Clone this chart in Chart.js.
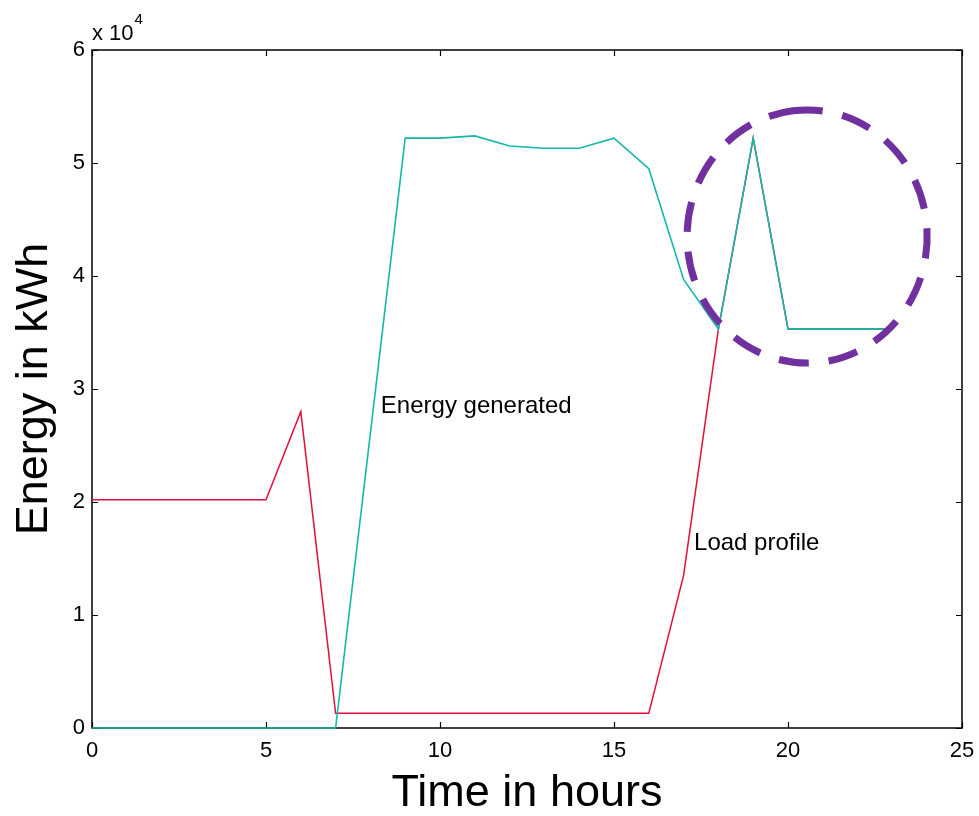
<!DOCTYPE html>
<html>
<head>
<meta charset="utf-8">
<script src="https://cdn.jsdelivr.net/npm/chart.js@4.4.1/dist/chart.umd.min.js"></script>
<style>
  html, body { margin: 0; padding: 0; background: #fff; }
  #wrap { width: 979px; height: 816px; }
</style>
</head>
<body>
<div id="wrap"><canvas id="energy"></canvas></div>
<script>
const hours = [0, 1, 2, 3, 4, 5, 6, 7, 8, 9, 10, 11, 12, 13, 14, 15, 16, 17, 18, 19, 20, 21, 22, 23];
const loadProfile = [20200, 20200, 20200, 20200, 20200, 20200, 28000, 1300, 1300, 1300, 1300, 1300,
  1300, 1300, 1300, 1300, 1300, 13500, 35300, 52200, 35300, 35300, 35300, 35300];
const energyGenerated = [0, 0, 0, 0, 0, 0, 0, 0, 26100, 52200, 52200, 52400,
  51500, 51300, 51300, 52200, 49500, 39700, 35300, 52200, 35300, 35300, 35300, 35300];
const xTicks = [0, 5, 10, 15, 20, 25];
const yTicks = [0, 10000, 20000, 30000, 40000, 50000, 60000];

const FONT = 'Arial, "Liberation Sans", sans-serif';

// box round the plot with short ticks pointing inwards on every side
const matlabBox = {
  id: 'matlabBox',
  beforeDatasetsDraw(chart) {
    const { ctx, chartArea: { left, top, right, bottom }, scales: { x, y } } = chart;
    ctx.save();
    ctx.strokeStyle = '#000';
    ctx.lineWidth = 1.5;
    ctx.strokeRect(left, top, right - left, bottom - top);
    ctx.lineWidth = 1.2;
    ctx.beginPath();
    xTicks.forEach((v) => {
      const px = Math.round(x.getPixelForValue(v)) + 0.5;
      ctx.moveTo(px, bottom); ctx.lineTo(px, bottom - 6);
      ctx.moveTo(px, top); ctx.lineTo(px, top + 6);
    });
    yTicks.forEach((v) => {
      const py = Math.round(y.getPixelForValue(v)) + 0.5;
      ctx.moveTo(left, py); ctx.lineTo(left + 6, py);
      ctx.moveTo(right, py); ctx.lineTo(right - 6, py);
    });
    ctx.stroke();

    // exponent label above the y axis
    ctx.fillStyle = '#000';
    ctx.textBaseline = 'alphabetic';
    ctx.textAlign = 'left';
    ctx.font = '22px ' + FONT;
    ctx.fillText('x 10', left, top - 10);
    const w = ctx.measureText('x 10').width;
    ctx.font = '15px ' + FONT;
    ctx.fillText('4', left + w + 1, top - 26);
    ctx.restore();
  },
};

// in-plot text labels and the dashed ring, placed in data units
const annotations = {
  id: 'annotations',
  afterDatasetsDraw(chart) {
    const { ctx, scales: { x, y } } = chart;
    ctx.save();
    ctx.fillStyle = '#000';
    ctx.font = '24px ' + FONT;
    ctx.textBaseline = 'middle';
    ctx.textAlign = 'left';
    ctx.fillText('Energy generated', x.getPixelForValue(8.3), y.getPixelForValue(28500));
    ctx.fillText('Load profile', x.getPixelForValue(17.3), y.getPixelForValue(16300));

    const cx = x.getPixelForValue(20.55);
    const cy = y.getPixelForValue(43500);
    const rx = x.getPixelForValue(20.55 + 3.45) - cx;
    const ry = cy - y.getPixelForValue(43500 + 11200);
    ctx.strokeStyle = '#7030A0';
    ctx.lineWidth = 7;
    ctx.setLineDash([30, 20]);
    ctx.beginPath();
    ctx.ellipse(cx, cy, rx, ry, 0, -Math.PI / 2 - 0.12, 1.5 * Math.PI - 0.12);
    ctx.stroke();
    ctx.restore();
  },
};

new Chart(document.getElementById('energy'), {
  type: 'line',
  data: {
    datasets: [
      {
        label: 'Load profile',
        data: hours.map((h, i) => ({ x: h, y: loadProfile[i] })),
        borderColor: '#E0103A',
        borderWidth: 1.5,
        pointRadius: 0,
        tension: 0,
        clip: false,
        order: 2,
      },
      {
        label: 'Energy generated',
        data: hours.map((h, i) => ({ x: h, y: energyGenerated[i] })),
        borderColor: '#14B8A6',
        borderWidth: 1.6,
        pointRadius: 0,
        tension: 0,
        clip: false,
        order: 1,
      },
    ],
  },
  options: {
    responsive: true,
    maintainAspectRatio: false,
    animation: false,
    events: [],
    layout: {
      padding: { top: 50, right: 17, left: 0, bottom: 0 },
    },
    plugins: {
      legend: { display: false },
      tooltip: { enabled: false },
    },
    scales: {
      x: {
        type: 'linear',
        min: 0,
        max: 25,
        afterBuildTicks: (axis) => { axis.ticks = xTicks.map((v) => ({ value: v })); },
        afterFit: (axis) => {
          axis.height = 88;
          axis.paddingLeft = 0;
          axis.paddingRight = 0;
        },
        border: { display: false },
        grid: { display: false, drawTicks: false },
        ticks: {
          color: '#000',
          padding: 10,
          font: { family: FONT, size: 22 },
        },
        title: {
          display: true,
          text: 'Time in hours',
          color: '#000',
          padding: { top: 0, bottom: 0 },
          font: { family: FONT, size: 45, lineHeight: 1 },
        },
      },
      y: {
        min: 0,
        max: 60000,
        afterBuildTicks: (axis) => { axis.ticks = yTicks.map((v) => ({ value: v })); },
        afterFit: (axis) => { axis.width = 92; },
        border: { display: false },
        grid: { display: false, drawTicks: false },
        ticks: {
          color: '#000',
          padding: 7,
          callback: (value) => String(value / 10000),
          font: { family: FONT, size: 22 },
        },
        title: {
          display: true,
          text: 'Energy in kWh',
          color: '#000',
          padding: { top: 12, bottom: 0 },
          font: { family: FONT, size: 45, lineHeight: 1 },
        },
      },
    },
  },
  plugins: [matlabBox, annotations],
});
</script>
</body>
</html>
